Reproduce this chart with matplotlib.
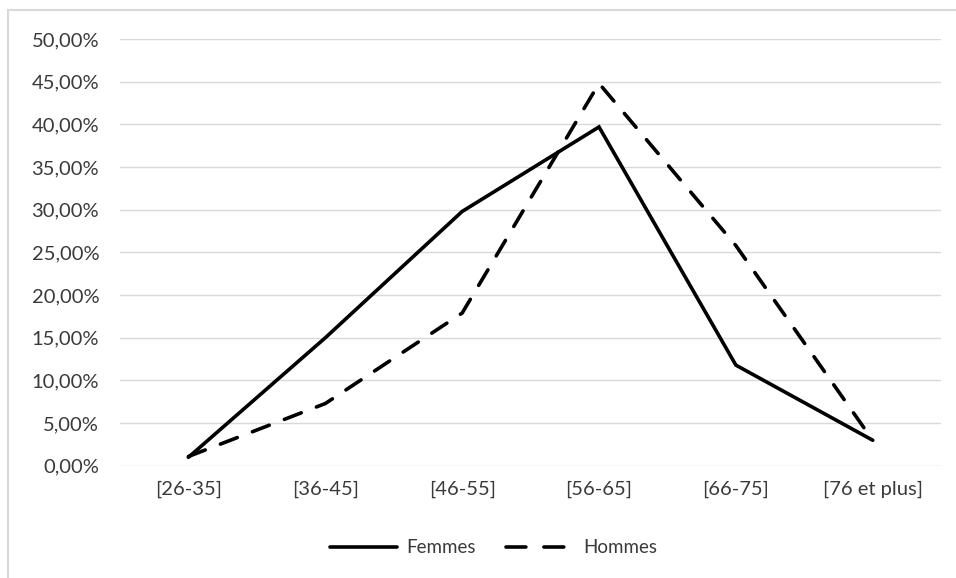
import numpy as np
import matplotlib.pyplot as plt
from matplotlib.lines import Line2D
from matplotlib.ticker import FuncFormatter

plt.rcParams['font.family'] = ['Lato', 'DejaVu Sans']

# Data
categories = ['[26-35]', '[36-45]', '[46-55]', '[56-65]', '[66-75]', '[76 et plus]']
femmes = [1.0, 15.0, 29.8, 39.7, 11.8, 3.0]
hommes = [1.1, 7.3, 17.9, 44.8, 25.8, 3.0]

txt_color = '#3a3a3a'

fig = plt.figure(figsize=(9.56, 5.78), dpi=100)
ax = fig.add_axes([0.1255, 0.194, 0.859, 0.7385])

x = np.arange(len(categories))

ax.plot(x, femmes, color='black', lw=2.6, solid_capstyle='round',
        solid_joinstyle='miter', zorder=3, label='Femmes')
ax.plot(x, hommes, color='black', lw=2.6, linestyle=(0, (5, 4.5)),
        dash_capstyle='round', zorder=3, label='Hommes')

ax.set_xlim(-0.5, len(categories) - 0.5)
ax.set_ylim(0, 50)
ax.set_yticks(np.arange(0, 51, 5))
ax.yaxis.set_major_formatter(FuncFormatter(lambda v, p: f'{v:.2f}%'.replace('.', ',')))
ax.set_xticks(x)
ax.set_xticklabels(categories)
ax.tick_params(length=0, labelsize=14.5, labelcolor=txt_color)
ax.tick_params(axis='y', pad=15)
ax.tick_params(axis='x', pad=11)
ax.grid(axis='y', color='#d9d9d9', lw=1)
ax.set_axisbelow(True)
for s in ax.spines.values():
    s.set_visible(False)

handles = [Line2D([], [], color='black', lw=2.6, solid_capstyle='round'),
           Line2D([], [], color='black', lw=2.6, linestyle=(0, (5.5, 5)),
                  dash_capstyle='round')]
fig.legend(handles, ['Femmes', 'Hommes'], loc='center', bbox_to_anchor=(0.516, 0.052),
           ncol=2, frameon=False, fontsize=13.5, handlelength=3.6, columnspacing=1.6,
           handletextpad=0.5, labelcolor=txt_color)

# chart frame (left and top edges visible)
fig.add_artist(Line2D([0.0085, 0.0085], [0, 0.983], color='#d9d9d9', lw=1.5,
                      transform=fig.transFigure))
fig.add_artist(Line2D([0.0085, 1], [0.983, 0.983], color='#d9d9d9', lw=1.5,
                      transform=fig.transFigure))

fig.savefig('out.png', dpi=100)
